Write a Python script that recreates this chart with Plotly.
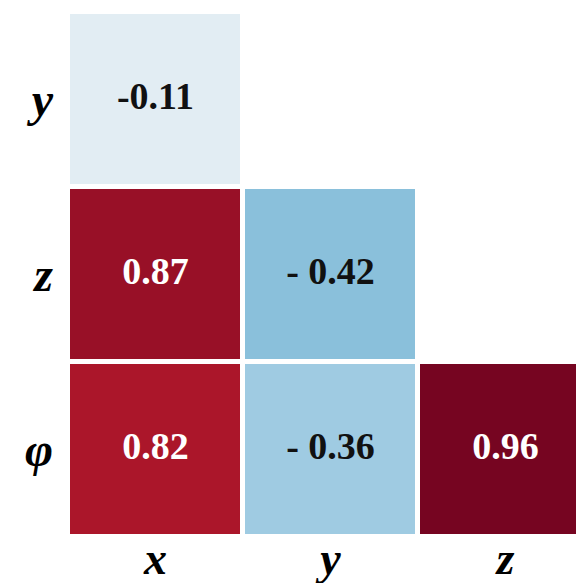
import plotly.graph_objects as go

# correlation matrix, lower triangle only
cols = ['x', 'y', 'z']
rows = ['y', 'z', 'φ']
corr = [
    [-0.11, None, None],
    [0.87, -0.42, None],
    [0.82, -0.36, 0.96],
]
labels = [
    ['-0.11', '', ''],
    ['0.87', '- 0.42', ''],
    ['0.82', '- 0.36', '0.96'],
]

# colorbrewer RdBu, reversed (blue = negative, red = positive)
rdbu = ['rgb(5,48,97)', 'rgb(33,102,172)', 'rgb(67,147,195)', 'rgb(146,197,222)',
        'rgb(209,229,240)', 'rgb(247,247,247)', 'rgb(253,219,199)', 'rgb(244,165,130)',
        'rgb(214,96,77)', 'rgb(178,24,43)', 'rgb(103,0,31)']
cscale = [[i / 10, c] for i, c in enumerate(rdbu)]

serif = 'Liberation Serif, Times New Roman, serif'

fig = go.Figure()

fig.add_trace(go.Heatmap(
    x=list(range(len(cols))), y=list(range(len(rows))), z=corr,
    colorscale=cscale, zmin=-1, zmax=1,
    xgap=5, ygap=5, showscale=False, hoverongaps=False,
))

# cell values
tx, ty, tt, tc = [], [], [], []
for i, r in enumerate(rows):
    for j, c in enumerate(cols):
        if corr[i][j] is None:
            continue
        tx.append(j)
        ty.append(i)
        tt.append('<b>' + labels[i][j] + '</b>')
        tc.append('white' if corr[i][j] > 0.5 else '#111111')

fig.add_trace(go.Scatter(
    x=tx, y=ty, text=tt, mode='text',
    textfont=dict(family=serif, size=38, color=tc),
    hoverinfo='skip', showlegend=False,
))

# page body has an 8px margin, so the figure is shifted by it
fig.update_layout(
    width=584, height=575,
    margin=dict(l=60, r=0, t=4, b=46),
    plot_bgcolor='white', paper_bgcolor='white',
    showlegend=False,
)
fig.update_xaxes(
    range=[-0.5, -0.5 + 524 / 175], tickvals=list(range(3)),
    ticktext=['<b><i>' + c + '</i></b>' for c in cols],
    tickfont=dict(family=serif, size=46, color='black'),
    showgrid=False, zeroline=False, showline=False,
    ticklabelstandoff=-10, automargin=False,
)
fig.update_yaxes(
    range=[2.5, -0.5], tickvals=list(range(3)),
    ticktext=['<b><i>' + r + '</i></b>' for r in rows],
    tickfont=dict(family=serif, size=48, color='black'),
    showgrid=False, zeroline=False, showline=False,
    ticklabelstandoff=14, automargin=False,
)

fig.write_html("out.html")
